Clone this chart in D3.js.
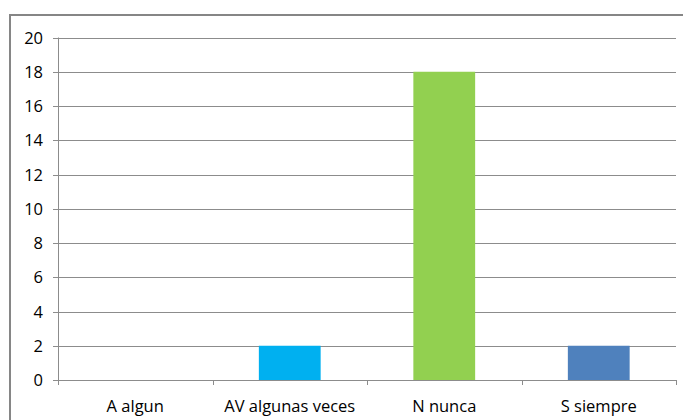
<!DOCTYPE html>
<html><head><meta charset="utf-8">
<script src="https://cdn.jsdelivr.net/npm/d3@7"></script>
<style>body{margin:0;background:#fff}svg{display:block}text{font-family:"Open Sans","Noto Sans",sans-serif;font-size:16.5px;fill:#000}</style>
</head><body><svg id="c" width="683" height="420"></svg>
<script>
const categories = ["A algun","AV algunas veces","N nunca","S siempre"];
const values = [0,2,18,2];
const colors = ["#00B0F0","#00B0F0","#92D050","#4F81BD"];
const yTicks = [0,2,4,6,8,10,12,14,16,18,20];

const svg = d3.select("#c");
svg.append("rect").attr("x",10).attr("y",15).attr("width",680).attr("height",420)
  .attr("fill","none").attr("stroke","#868686").attr("stroke-width",2);

const m = {l:58, r:676, t:37.5, b:380};
const x = d3.scaleBand().domain(categories).range([m.l,m.r]);
const y = d3.scaleLinear().domain([0,20]).range([m.b,m.t]);

svg.append("g").selectAll("line").data(yTicks).join("line")
  .attr("x1",m.l-5).attr("x2",m.r).attr("y1",d=>Math.round(y(d))+0.5).attr("y2",d=>Math.round(y(d))+0.5)
  .attr("stroke","#8c8c8c").attr("stroke-width",1);
svg.append("line").attr("x1",m.l+0.5).attr("x2",m.l+0.5).attr("y1",m.t).attr("y2",m.b+5)
  .attr("stroke","#8c8c8c");
svg.append("g").selectAll("text").data(yTicks).join("text")
  .attr("x",43).attr("y",d=>y(d)+6).attr("text-anchor","end").text(d=>d);
const bounds = categories.map(c=>x(c)).concat([m.r]);
svg.append("g").selectAll("line").data(bounds).join("line")
  .attr("x1",d=>Math.round(d)+0.5).attr("x2",d=>Math.round(d)+0.5).attr("y1",m.b).attr("y2",m.b+5)
  .attr("stroke","#8c8c8c");
const bw = x.bandwidth()*0.4;
svg.append("g").selectAll("rect").data(values).join("rect")
  .attr("x",(d,i)=>x(categories[i])+x.bandwidth()/2-bw/2)
  .attr("y",d=>y(d)).attr("width",bw).attr("height",d=>y(0)-y(d))
  .attr("fill",(d,i)=>colors[i]);
svg.append("g").selectAll("text").data(categories).join("text")
  .attr("x",d=>x(d)+x.bandwidth()/2).attr("y",412).attr("text-anchor","middle").text(d=>d);
</script></body></html>
